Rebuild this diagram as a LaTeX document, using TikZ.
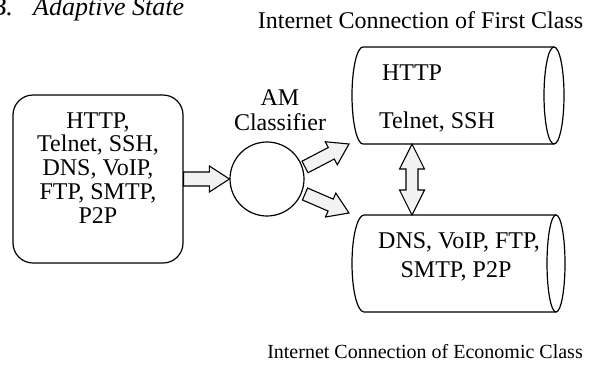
\documentclass[tikz,border=0pt]{standalone}
\usepackage{fontspec}
\setmainfont{Liberation Serif}
\usetikzlibrary{calc}
\newcommand\blkarrow[5]{%
  \coordinate (bh) at ($(#2)!#5!(#1)$);
  \draw[blockarrow] ($(#1)!#3!90:(#2)$) -- ($(bh)!#3!90:(#2)$) -- ($(bh)!#4!90:(#2)$) -- (#2)
    -- ($(bh)!#4!-90:(#2)$) -- ($(bh)!#3!-90:(#2)$) -- ($(#1)!#3!-90:(#2)$) -- cycle;}
\newcommand\dblarrow[5]{%
  \coordinate (dha) at ($(#1)!#5!(#2)$);
  \coordinate (dhb) at ($(#2)!#5!(#1)$);
  \draw[blockarrow] (#1) -- ($(dha)!#4!90:(#2)$) -- ($(dha)!#3!90:(#2)$) -- ($(dhb)!#3!90:(#2)$)
    -- ($(dhb)!#4!90:(#2)$) -- (#2) -- ($(dhb)!#4!-90:(#2)$) -- ($(dhb)!#3!-90:(#2)$)
    -- ($(dha)!#3!-90:(#2)$) -- ($(dha)!#4!-90:(#2)$) -- cycle;}
\tikzset{
  ln/.style={line width=1.2pt},
  blockarrow/.style={draw, line width=1.1pt, fill=gray!10, line join=miter},
  txt/.style={font=\fontsize{24}{24}\selectfont, inner sep=0pt, anchor=base},
}
\begin{document}
\begin{tikzpicture}[x=1pt,y=-1pt]
\useasboundingbox (0,0) rectangle (593,370);
\clip (0,0) rectangle (593,370);

% heading
\node[font=\fontsize{26}{26}\selectfont\itshape, anchor=base east, inner sep=0pt] (bnum) at (13,15) {B.};
\node[font=\fontsize{26}{26}\selectfont\itshape, anchor=base west, inner sep=0pt] (bhead) at (33,15) {Adaptive State};

% source box
\node[draw, ln, rounded corners=20pt, minimum width=170pt, minimum height=168pt, inner sep=0pt] (src) at (98,179) {};
\node[txt] (s1) at (98,128) {HTTP,};
\node[txt] (s2) at (98,151.75) {Telnet, SSH,};
\node[txt] (s3) at (98,175.5) {DNS, VoIP,};
\node[txt] (s4) at (98,199.25) {FTP, SMTP,};
\node[txt] (s5) at (98,223) {P2P};

% classifier
\node[draw, ln, circle, minimum size=74pt, inner sep=0pt] (clf) at (267,179) {};
\node[txt] (am1) at (280,105) {AM};
\node[txt] (am2) at (280,130) {Classifier};

% first class cylinder
\draw[ln] (554,47) -- (363,47) arc[start angle=270, end angle=90, x radius=11, y radius=48.5] -- (554,144);
\draw[ln] (554,95.5) ellipse[x radius=10, y radius=48.5];
% economic class cylinder
\draw[ln] (556,215) -- (364,215) arc[start angle=270, end angle=90, x radius=12, y radius=48.5] -- (556,312);
\draw[ln] (556,263.5) ellipse[x radius=9, y radius=48.5];

% texts
\node[txt] (fc1) at (412,80) {HTTP};
\node[txt] (fc2) at (437,128) {Telnet, SSH};
\node[txt] (ec1) at (459,248) {DNS, VoIP, FTP,};
\node[txt] (ec2) at (456,277) {SMTP, P2P};
\node[txt] (ttop) at (420.5,28) {Internet Connection of First Class};
\node[txt, font=\fontsize{20}{24}\selectfont] (tbot) at (425,358) {Internet Connection of Economic Class};

% arrow end points
\coordinate (a1s) at (305,167);
\coordinate (a2s) at (305,194);
\coordinate (fcin) at (349,144);
\coordinate (ecin) at (349,213);
\coordinate (fcbot) at (412,144);
\coordinate (ectop) at (412,215);

% arrows
\blkarrow{src.east}{clf.west}{7pt}{13pt}{20pt}
\blkarrow{a1s}{fcin}{6.5pt}{13pt}{20pt}
\blkarrow{a2s}{ecin}{6.5pt}{13pt}{20pt}
\dblarrow{fcbot}{ectop}{6pt}{12.5pt}{25pt}
\end{tikzpicture}
\end{document}
